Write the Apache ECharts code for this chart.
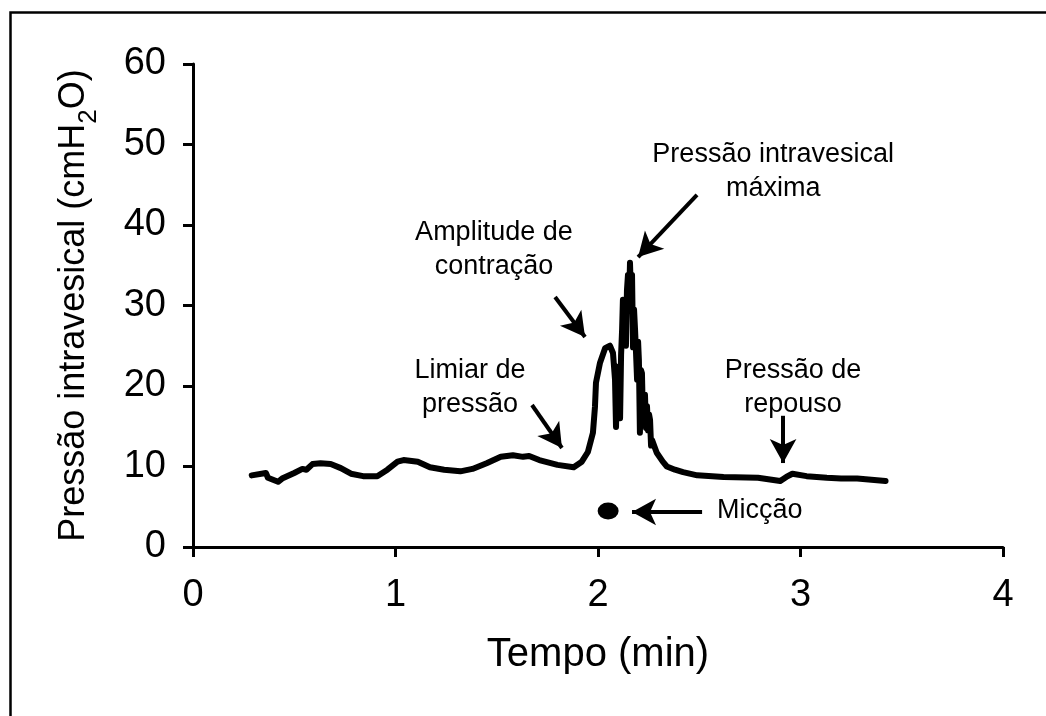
<!DOCTYPE html>
<html>
<head>
<meta charset="utf-8">
<script src="https://cdn.jsdelivr.net/npm/echarts@6/dist/echarts.min.js"></script>
<style>
html,body{margin:0;padding:0;background:#fff;}
#c{width:1046px;height:716px;}
</style>
</head>
<body>
<div id="c"></div>
<script>
// ---- data ----
const timeMin = [
  0.29,0.36,0.37,0.42,0.44,0.50,0.54,0.56,0.59,0.63,0.68,0.73,0.78,0.84,0.91,0.96,
  1.01,1.04,1.11,1.17,1.24,1.32,1.38,1.45,1.52,1.58,1.63,1.66,1.71,1.80,1.88,1.92,
  1.95,1.975,1.985,1.99,2.01,2.035,2.059,2.074,2.084,2.089,2.094,2.099,2.104,2.109,
  2.114,2.119,2.123,2.128,2.133,2.138,2.143,2.148,2.153,2.158,2.163,2.168,2.173,
  2.178,2.183,2.188,2.193,2.198,2.202,2.207,2.212,2.217,2.222,2.227,2.232,2.237,
  2.242,2.247,2.252,2.257,2.262,2.267,2.29,2.32,2.34,2.38,2.42,2.49,2.62,2.79,2.90,
  2.93,2.96,3.03,3.13,3.20,3.28,3.42
];
const pressure = [
  8.9,9.2,8.6,8.1,8.5,9.2,9.7,9.6,10.3,10.4,10.3,9.8,9.1,8.8,8.8,9.6,
  10.6,10.8,10.6,9.9,9.6,9.4,9.7,10.4,11.2,11.4,11.2,11.3,10.8,10.2,9.9,10.6,
  11.8,14.2,17.4,20.4,22.9,24.7,25.0,24.1,20.8,14.9,22.4,16.5,18.9,16.0,
  23.9,27.0,30.7,26.5,28.8,25.0,31.9,33.8,30.0,35.3,31.0,33.8,24.8,
  29.5,27.0,24.0,20.8,25.5,23.2,14.2,22.0,21.6,16.0,17.0,18.9,14.8,
  17.5,14.5,16.5,15.8,12.6,13.3,11.7,10.6,10.0,9.6,9.3,8.9,8.7,8.6,8.2,
  8.7,9.1,8.8,8.6,8.5,8.5,8.2
];
const xTickValues = [0, 1, 2, 3, 4];
const yTickValues = [0, 10, 20, 30, 40, 50, 60];
const miccaoDot = [[2.05, 4.47]];

const annotationTexts = ['Pressão intravesical\nmáxima', 'Amplitude de\ncontração', 'Limiar de\npressão', 'Pressão de\nrepouso', 'Micção'];
const annotationPos = [[2.865, 46.6], [1.486, 36.9], [1.368, 19.75], [2.963, 19.75], [2.588, 4.47]];
const arrowFrom = [[2.489, 43.73], [1.788, 31.06], [1.674, 17.64], [2.914, 16.3], [2.514, 4.35]];
const arrowTo   = [[2.198, 36.02], [1.936, 26.09], [1.822, 12.30], [2.914, 10.43], [2.168, 4.35]];

const lineData = timeMin.map((t, i) => [t, pressure[i]]);
const FONT = '"Liberation Sans", Arial, Helvetica, sans-serif';

const chart = echarts.init(document.getElementById('c'), null, {renderer: 'canvas'});
chart.setOption({
  animation: false,
  backgroundColor: '#fff',
  graphic: [{
    type: 'rect', left: 8, top: 10, silent: true,
    shape: {x: 0, y: 0, width: 1100, height: 800},
    style: {fill: 'none', stroke: '#000', lineWidth: 2.5}
  }],
  grid: {left: 193, right: 43, top: 64, bottom: 169, containLabel: false},
  xAxis: {
    type: 'value', min: xTickValues[0], max: xTickValues[xTickValues.length - 1], interval: 1,
    name: 'Tempo (min)', nameLocation: 'middle', nameGap: 86,
    nameTextStyle: {fontSize: 40, fontFamily: FONT, color: '#000', lineHeight: 44},
    axisLine: {lineStyle: {color: '#000', width: 3}},
    axisTick: {show: true, length: 10, inside: false, lineStyle: {color: '#000', width: 3}},
    axisLabel: {fontSize: 38, fontFamily: FONT, color: '#000', margin: 30},
    splitLine: {show: false}
  },
  yAxis: {
    type: 'value', min: yTickValues[0], max: yTickValues[yTickValues.length - 1], interval: 10,
    name: '{a|Pressão intravesical (cmH}{s|2}{a|O)}', nameLocation: 'middle', nameGap: 91, nameRotate: 90,
    nameTextStyle: {
      fontFamily: FONT, color: '#000',
      rich: {
        a: {fontSize: 36, fontFamily: FONT, color: '#000', lineHeight: 56},
        s: {fontSize: 26, fontFamily: FONT, color: '#000', lineHeight: 26, verticalAlign: 'bottom'}
      }
    },
    axisLine: {lineStyle: {color: '#000', width: 3}},
    axisTick: {show: true, length: 10, inside: false, lineStyle: {color: '#000', width: 3}},
    axisLabel: {fontSize: 38, fontFamily: FONT, color: '#000', margin: 27},
    splitLine: {show: false}
  },
  series: [
    {
      type: 'line', data: lineData, symbol: 'none', smooth: false,
      lineStyle: {color: '#000', width: 6, join: 'round', cap: 'round'},
      silent: true,
      markLine: {
        silent: true, animation: false,
        symbol: ['none', 'arrow'], symbolSize: [20, 24],
        label: {show: false},
        lineStyle: {color: '#000', width: 4, type: 'solid'},
        data: arrowFrom.map((p, i) => [{coord: p}, {coord: arrowTo[i]}])
      }
    },
    {
      type: 'scatter', data: miccaoDot, symbol: 'circle', symbolSize: [21, 17],
      itemStyle: {color: '#000', opacity: 1}, silent: true
    },
    {
      type: 'scatter', silent: true, symbolSize: 1,
      itemStyle: {color: 'rgba(0,0,0,0)', opacity: 1},
      data: annotationPos.map((p, i) => ({
        value: p, name: annotationTexts[i],
        label: {align: i === 4 ? 'left' : 'center'}
      })),
      label: {
        show: true, position: 'inside', formatter: p => p.name,
        fontSize: 27, fontFamily: FONT, color: '#000', lineHeight: 34,
        verticalAlign: 'middle'
      }
    }
  ]
});
</script>
</body>
</html>
